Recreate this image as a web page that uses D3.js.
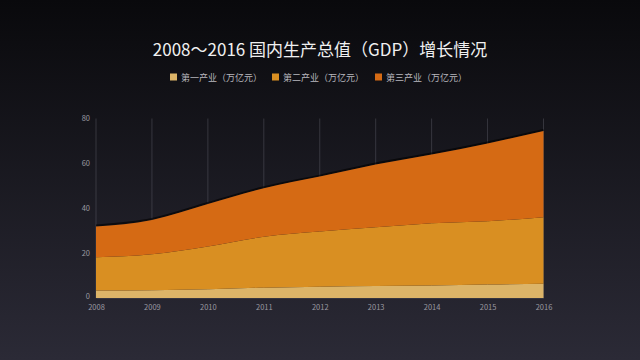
<!DOCTYPE html>
<html><head><meta charset="utf-8">
<script src="https://cdn.jsdelivr.net/npm/d3@7"></script>
<style>
html,body{margin:0;padding:0;width:640px;height:360px;overflow:hidden;background:#1a1a20;}
</style></head>
<body>
<svg id="c" width="640" height="360"></svg>
<script>
const years = ["2008","2009","2010","2011","2012","2013","2014","2015","2016"];
const primary   = [3.3, 3.5, 3.9, 4.6, 5.0, 5.3, 5.6, 6.0, 6.4];
const secondary = [14.9, 16.0, 19.1, 22.7, 24.6, 26.2, 27.7, 28.2, 29.6];
const tertiary  = [13.7, 15.3, 18.9, 21.6, 24.5, 28.0, 30.7, 34.7, 38.4];
const seriesNames = ["第一产业（万亿元）","第二产业（万亿元）","第三产业（万亿元）"];
const yTicks = [0, 20, 40, 60, 80];
const colors = ["#dcb468", "#d98f22", "#d56a14"];

const svg = d3.select("#c");
const defs = svg.append("defs");
const bg = defs.append("linearGradient").attr("id","bg").attr("x1",0).attr("y1",0).attr("x2",0).attr("y2",1);
bg.append("stop").attr("offset","0%").attr("stop-color","#09090c");
bg.append("stop").attr("offset","100%").attr("stop-color","#2b2a36");
svg.append("rect").attr("width",640).attr("height",360).attr("fill","url(#bg)");

const font = "'Noto Sans CJK SC','Noto Sans',sans-serif";

svg.append("text").attr("x",320).attr("y",56).attr("text-anchor","middle")
  .attr("font-family",font).attr("font-size",17).attr("font-weight",400).attr("fill","#f0f0f0")
  .text("2008～2016 国内生产总值（GDP）增长情况");

const x = d3.scalePoint().domain(years).range([96, 543.5]);
const y = d3.scaleLinear().domain([0, 80]).range([298, 118.5]);

const rows = years.map((yr,i)=>({year:yr, a:primary[i], b:secondary[i], c:tertiary[i]}));
const stack = d3.stack().keys(["a","b","c"]);
const layers = stack(rows);

// gridlines
svg.append("g").selectAll("line").data(years).join("line")
  .attr("x1",d=>x(d)).attr("x2",d=>x(d)).attr("y1",y(80)).attr("y2",y(0))
  .attr("stroke","#5a5a64").attr("stroke-width",0.8).attr("opacity",0.6);

const curve = d3.curveMonotoneX;
const area = d3.area().x((d,i)=>x(years[i])).y0(d=>y(d[0])).y1(d=>y(d[1])).curve(curve);

// shadow line over the top
const topLine = d3.line().x((d,i)=>x(years[i])).y(d=>y(d[1])).curve(curve);
svg.append("path").datum(layers[2]).attr("d",topLine).attr("fill","none")
  .attr("stroke","#000").attr("stroke-width",2).attr("opacity",0.6).attr("transform","translate(0,-1)");

svg.append("g").selectAll("path").data(layers).join("path")
  .attr("d",area).attr("fill",(d,i)=>colors[i]);

// y axis
const yAxis = d3.axisLeft(y).tickValues(yTicks).tickSize(0).tickPadding(6);
const gy = svg.append("g").attr("transform","translate(96,0)").call(yAxis);
gy.select(".domain").remove();
gy.selectAll("text").attr("font-family",font).attr("font-size",7.5).attr("fill","#9a9aa2");
gy.selectAll(".tick").filter(d=>d===0).select("text").attr("dy","0.1em");

// x axis
const xAxis = d3.axisBottom(x).tickSize(0).tickPadding(5);
const gx = svg.append("g").attr("transform","translate(0,298)").call(xAxis);
gx.select(".domain").attr("stroke","#3a3a44").attr("stroke-width",0.8);
gx.selectAll("text").attr("font-family",font).attr("font-size",7.5).attr("fill","#9a9aa2").attr("dy","0.9em");

// legend
const legX = [170, 272, 375];
const leg = svg.append("g");
seriesNames.forEach((n,i)=>{
  leg.append("rect").attr("x",legX[i]).attr("y",73.5).attr("width",7).attr("height",7).attr("fill",colors[i]);
  leg.append("text").attr("x",legX[i]+11).attr("y",80.5).attr("font-family",font).attr("font-size",9)
    .attr("fill","#b8b8be").text(n);
});
</script>
</body></html>
